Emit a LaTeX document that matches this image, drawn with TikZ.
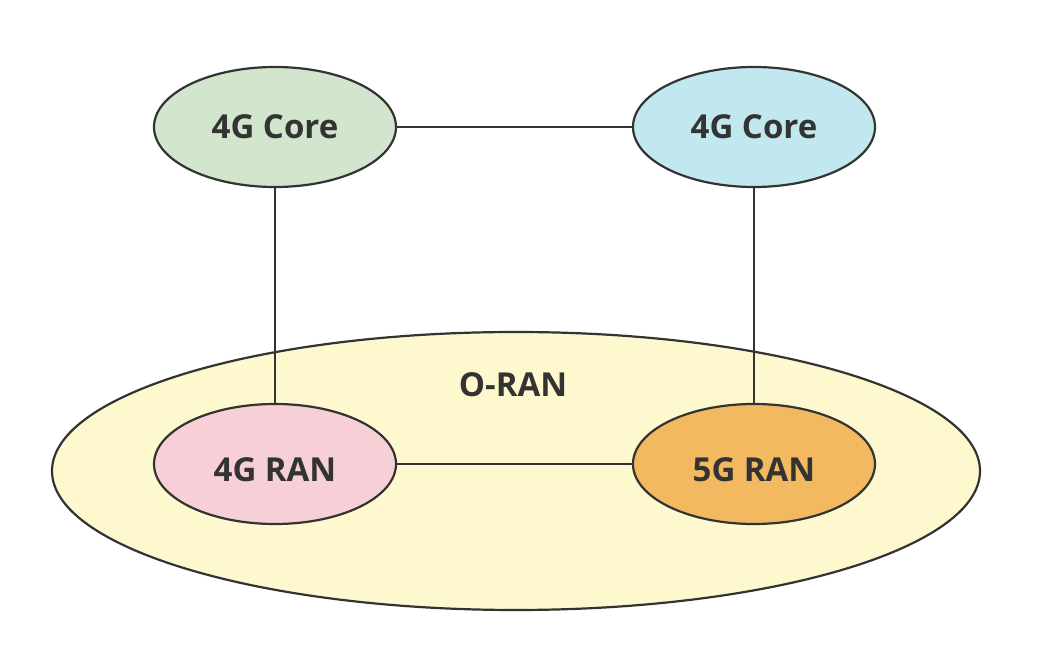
\documentclass[tikz,border=0pt]{standalone}
\usepackage{fontspec}
\setmainfont{Open Sans}
\usetikzlibrary{shapes.geometric}
\definecolor{cgreen}{HTML}{D1E6CC}
\definecolor{cblue}{HTML}{C1E8EF}
\definecolor{cyellow}{HTML}{FDF8CD}
\definecolor{cpink}{HTML}{F6D0D6}
\definecolor{corange}{HTML}{F2B960}
\definecolor{cline}{HTML}{333333}
\tikzset{
  lbl/.style={text=cline, font=\bfseries\fontsize{33}{36}\selectfont},
  oval/.style={ellipse, draw=cline, line width=2.2pt, inner sep=0pt,
    minimum width=242pt, minimum height=120pt, lbl},
  link/.style={draw=cline, line width=2.2pt}
}
\begin{document}
\begin{tikzpicture}[x=1pt,y=1pt]
\useasboundingbox (0,0) rectangle (1037,651);
\node[ellipse, draw=cline, line width=2.2pt, fill=cyellow, inner sep=0pt,
  minimum width=928pt, minimum height=278pt] (oran) at (516,180) {};
\node[lbl] (oranlbl) at (513,266) {O-RAN};
\node[oval, fill=cgreen] (c1) at (275,524) {4G Core};
\node[oval, fill=cblue] (c2) at (754,524) {4G Core};
\node[oval, fill=cpink] (r1) at (275,187) {};
\node[oval, fill=corange] (r2) at (754,187) {};
\node[lbl] (r1lbl) at ([yshift=-6pt]r1.center) {4G RAN};
\node[lbl] (r2lbl) at ([yshift=-6pt]r2.center) {5G RAN};
\draw[link] (c1) -- (c2);
\draw[link] (r1) -- (r2);
\draw[link] (c1) -- (r1);
\draw[link] (c2) -- (r2);
\end{tikzpicture}
\end{document}
